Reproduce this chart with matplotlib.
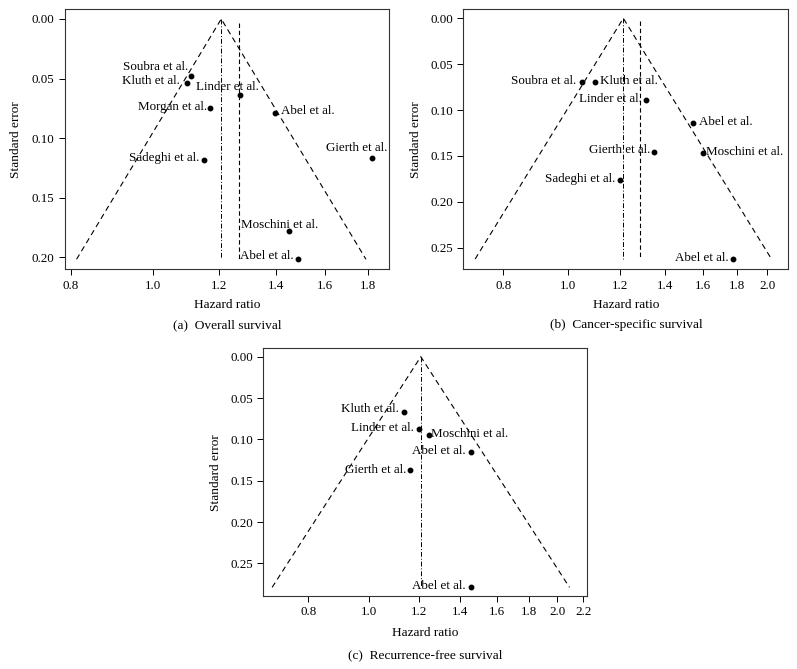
import numpy as np
import matplotlib
matplotlib.use('Agg')
from matplotlib import pyplot as plt
from matplotlib.ticker import FormatStrFormatter, NullLocator

plt.rcParams['font.family'] = ['Liberation Serif', 'DejaVu Serif']
plt.rcParams['font.size'] = 9

# (a) Overall survival
os_names = ["Soubra et al.", "Kluth et al.", "Linder et al.", "Morgan et al.", "Abel et al.",
            "Gierth et al.", "Sadeghi et al.", "Moschini et al.", "Abel et al."]
os_hr = [1.109, 1.099, 1.269, 1.170, 1.398, 1.821, 1.149, 1.450, 1.489]
os_se = [0.0476, 0.0537, 0.0635, 0.0747, 0.0786, 0.1164, 0.1183, 0.178, 0.2017]
os_fixed = 1.206
os_random = 1.265
os_xticks = [0.8, 1.0, 1.2, 1.4, 1.6, 1.8]
os_yticks = [0.00, 0.05, 0.10, 0.15, 0.20]

# (b) Cancer-specific survival
css_names = ["Soubra et al.", "Kluth et al.", "Linder et al.", "Abel et al.", "Gierth et al.",
             "Moschini et al.", "Sadeghi et al.", "Abel et al."]
css_hr = [1.050, 1.100, 1.313, 1.547, 1.349, 1.601, 1.198, 1.773]
css_se = [0.0691, 0.0691, 0.0887, 0.1138, 0.1461, 0.1468, 0.176, 0.2624]
css_fixed = 1.213
css_random = 1.285
css_xticks = [0.8, 1.0, 1.2, 1.4, 1.6, 1.8, 2.0]
css_yticks = [0.00, 0.05, 0.10, 0.15, 0.20, 0.25]

# (c) Recurrence-free survival
rfs_names = ["Kluth et al.", "Linder et al.", "Moschini et al.", "Abel et al.", "Gierth et al.",
             "Abel et al."]
rfs_hr = [1.136, 1.202, 1.246, 1.456, 1.163, 1.457]
rfs_se = [0.0669, 0.0878, 0.0951, 0.1153, 0.1375, 0.279]
rfs_fixed = 1.210
rfs_xticks = [0.8, 1.0, 1.2, 1.4, 1.6, 1.8, 2.0, 2.2]
rfs_yticks = [0.00, 0.05, 0.10, 0.15, 0.20, 0.25]

# label placement: (dx, dy) in pixels, horizontal alignment
os_lab = [(-2, 9, 'right'), (-7, 1.5, 'right'), (19, 7.5, 'right'), (-3.5, 1, 'right'),
          (6, 2, 'left'), (15, 9.5, 'right'), (-4.5, 1.5, 'right'), (30, 6.5, 'right'),
          (-4.5, 3, 'right')]
css_lab = [(-5.5, 1, 'right'), (5, 1, 'left'), (-4, 1, 'right'), (5.5, 1, 'left'),
           (-4, 2.5, 'right'), (2.5, 0.5, 'left'), (-4.5, 1, 'right'), (-4.5, 1, 'right')]
rfs_lab = [(-4.5, 3.5, 'right'), (-5.5, 1, 'right'), (2.5, 1, 'left'), (-5.5, 1.5, 'right'),
           (-3.5, 0.5, 'right'), (-5.5, 1.5, 'right')]


def funnel(ax, names, hr, se, fixed, random, xticks, yticks, xlim, ylim, labs):
    se_max = max(se)
    k = np.exp(1.96 * se_max)
    ax.plot([fixed / k, fixed, fixed * k], [se_max, 0, se_max], color='black', lw=0.8,
            dashes=(5, 3.5))
    ax.plot([fixed, fixed], [0, se_max], color='black', lw=0.7, dashes=(5, 2, 1, 2))
    if random is not None:
        ax.plot([random, random], [0.0035, se_max], color='black', lw=0.8, dashes=(4, 2.5))
    ax.plot(hr, se, 'o', color='black', ms=3.2)
    for name, x, y, (dx, dy, ha) in zip(names, hr, se, labs):
        ax.annotate(name, (x, y), xytext=(dx, dy), textcoords='offset pixels',
                    ha=ha, va='center', fontsize=9.4)
    ax.set_xscale('log')
    ax.set_xticks(xticks)
    ax.xaxis.set_major_formatter(FormatStrFormatter('%.1f'))
    ax.xaxis.set_minor_locator(NullLocator())
    ax.set_yticks(yticks)
    ax.yaxis.set_major_formatter(FormatStrFormatter('%.2f'))
    ax.set_xlim(*xlim)
    ax.set_ylim(ylim[1], ylim[0])
    ax.tick_params(length=4.5, width=0.7, pad=3, labelsize=9.4)
    for sp in ax.spines.values():
        sp.set_linewidth(0.8)
        sp.set_color('#333333')
    ax.set_xlabel("Hazard ratio", fontsize=9.6)
    ax.set_ylabel("Standard error", fontsize=9.6)


fig = plt.figure(figsize=(7.97, 6.69), dpi=100)

ax_a = fig.add_axes([0.0816, 0.5975, 0.4069, 0.3886])
funnel(ax_a, os_names, os_hr, os_se, os_fixed, os_random, os_xticks, os_yticks,
       (0.787, 1.909), (-0.0081, 0.2101), os_lab)
ax_a.yaxis.set_label_coords(-0.132, 0.5)
ax_a.xaxis.set_label_coords(0.5, -0.114)

ax_b = fig.add_axes([0.5813, 0.5975, 0.4078, 0.3886])
funnel(ax_b, css_names, css_hr, css_se, css_fixed, css_random, css_xticks, css_yticks,
       (0.696, 2.151), (-0.0098, 0.2736), css_lab)
ax_b.yaxis.set_label_coords(-0.127, 0.5)
ax_b.xaxis.set_label_coords(0.5, -0.114)

ax_c = fig.add_axes([0.3304, 0.1091, 0.4058, 0.3703])
funnel(ax_c, rfs_names, rfs_hr, rfs_se, rfs_fixed, None, rfs_xticks, rfs_yticks,
       (0.678, 2.228), (-0.0102, 0.2895), rfs_lab)
ax_c.yaxis.set_label_coords(-0.127, 0.5)
ax_c.xaxis.set_label_coords(0.5, -0.125)

fig.text(227 / 797, 1 - 325 / 669, "(a)  Overall survival", ha='center', va='center', fontsize=9.6)
fig.text(626 / 797, 1 - 325 / 669, "(b)  Cancer-specific survival", ha='center', va='center',
         fontsize=9.6)
fig.text(425 / 797, 1 - 655 / 669, "(c)  Recurrence-free survival", ha='center', va='center',
         fontsize=9.6)

fig.savefig("out.png", dpi=100)
